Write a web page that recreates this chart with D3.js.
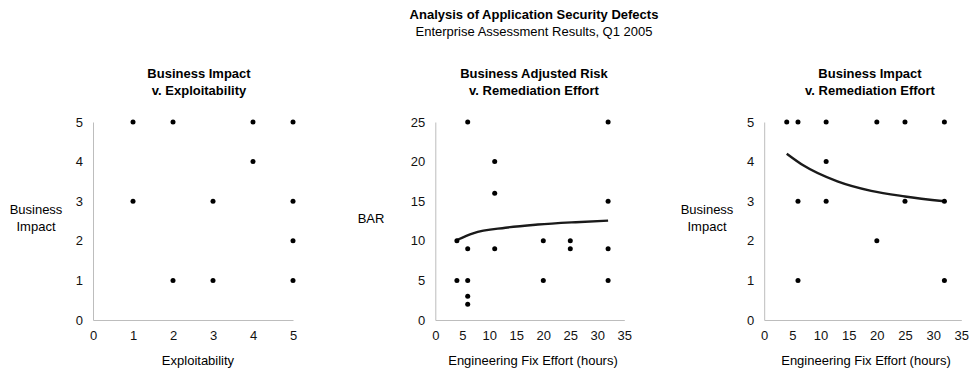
<!DOCTYPE html>
<html>
<head>
<meta charset="utf-8">
<script src="https://cdn.jsdelivr.net/npm/d3@7"></script>
<style>
  body { margin: 0; background: #fff; }
  svg { font-family: "Liberation Sans", Arial, sans-serif; }
  .tick text { font-size: 13px; fill: #111; }
  .domain { stroke: #bdbdbd; }
</style>
</head>
<body>
<svg width="973" height="370"></svg>
<script>
// chart data
const chartTitle = "Analysis of Application Security Defects";
const chartSubtitle = "Enterprise Assessment Results, Q1 2005";

// panel 1: business impact v. exploitability
const exploitX = [1, 1, 2, 2, 3, 3, 4, 4, 5, 5, 5, 5];
const impactY1 = [5, 3, 5, 1, 3, 1, 5, 4, 5, 3, 2, 1];

// panel 2: business adjusted risk v. effort
const effortX2 = [4, 4, 6, 6, 6, 6, 6, 11, 11, 11, 20, 20, 25, 25, 32, 32, 32, 32];
const barY = [10, 5, 25, 9, 5, 3, 2, 20, 16, 9, 10, 5, 10, 9, 25, 15, 9, 5];
const barTrendX = [4, 7, 13, 19, 26, 32];
const barTrendY = [10.1, 10.95, 11.65, 12.05, 12.35, 12.55];

// panel 3: business impact v. effort
const effortX3 = [4, 6, 6, 6, 11, 11, 11, 20, 20, 25, 25, 32, 32, 32];
const impactY3 = [5, 5, 3, 1, 5, 4, 3, 5, 2, 5, 3, 5, 3, 1];
const impactTrendX = [4, 7, 13, 19, 25, 32];
const impactTrendY = [4.2, 3.9, 3.5, 3.26, 3.12, 3.0];

const effortTicks = [0, 5, 10, 15, 20, 25, 30, 35];

const svg = d3.select("svg");

svg.append("text")
  .attr("x", 534).attr("y", 19)
  .attr("text-anchor", "middle")
  .attr("font-size", 13).attr("font-weight", "bold")
  .text(chartTitle);
svg.append("text")
  .attr("x", 534).attr("y", 36)
  .attr("text-anchor", "middle")
  .attr("font-size", 13)
  .text(chartSubtitle);

function drawPanel(p) {
  const g = svg.append("g");

  const x = d3.scaleLinear().domain(p.xDomain).range(p.xRange);
  const y = d3.scaleLinear().domain(p.yDomain).range([320, 122]);

  // axes
  g.append("g")
    .attr("transform", "translate(0,320)")
    .call(d3.axisBottom(x).tickValues(p.xTicks).tickSize(0).tickPadding(11).tickFormat(d3.format("d")))
    .call(a => a.select(".domain").attr("stroke", "#bdbdbd"));
  g.append("g")
    .attr("transform", `translate(${p.xRange[0]},0)`)
    .call(d3.axisLeft(y).tickValues(p.yTicks).tickSize(0).tickPadding(10).tickFormat(d3.format("d")))
    .call(a => a.select(".domain").attr("stroke", "#bdbdbd"));
  g.selectAll(".tick text").attr("font-family", null).attr("font-size", null);

  // titles
  const t = g.append("text")
    .attr("x", p.titleX).attr("y", 78)
    .attr("text-anchor", "middle")
    .attr("font-size", 13).attr("font-weight", "bold");
  p.title.forEach((line, i) => {
    t.append("tspan").attr("x", p.titleX).attr("dy", i == 0 ? 0 : 17).text(line);
  });

  g.append("text")
    .attr("x", p.xTitleX).attr("y", 365)
    .attr("text-anchor", "middle")
    .attr("font-size", 13)
    .text(p.xTitle);

  const yt = g.append("text")
    .attr("x", p.yTitleX).attr("y", p.yTitle.length > 1 ? 214 : 223)
    .attr("text-anchor", "middle")
    .attr("font-size", 13);
  p.yTitle.forEach((line, i) => {
    yt.append("tspan").attr("x", p.yTitleX).attr("dy", i == 0 ? 0 : 17).text(line);
  });

  // trend line
  if (p.trendX) {
    const line = d3.line()
      .x(d => x(d[0]))
      .y(d => y(d[1]))
      .curve(d3.curveMonotoneX);
    g.append("path")
      .datum(d3.zip(p.trendX, p.trendY))
      .attr("fill", "none")
      .attr("stroke", "#1a1a1a")
      .attr("stroke-width", 2.4)
      .attr("d", line);
  }

  // points
  g.selectAll(".dot")
    .data(d3.zip(p.xs, p.ys))
    .enter()
    .append("circle")
    .attr("class", "dot")
    .attr("cx", d => x(d[0]))
    .attr("cy", d => y(d[1]))
    .attr("r", 2.5)
    .attr("fill", "#000");
}

drawPanel({
  xs: exploitX, ys: impactY1,
  xDomain: [0, 5], xRange: [93, 293],
  yDomain: [0, 5],
  xTicks: [0, 1, 2, 3, 4, 5], yTicks: [0, 1, 2, 3, 4, 5],
  title: ["Business Impact", "v. Exploitability"], titleX: 199,
  xTitle: "Exploitability", xTitleX: 198,
  yTitle: ["Business", "Impact"], yTitleX: 36
});

drawPanel({
  xs: effortX2, ys: barY,
  trendX: barTrendX, trendY: barTrendY,
  xDomain: [0, 35], xRange: [435.3, 624.3],
  yDomain: [0, 25],
  xTicks: effortTicks, yTicks: [0, 5, 10, 15, 20, 25],
  title: ["Business Adjusted Risk", "v. Remediation Effort"], titleX: 534,
  xTitle: "Engineering Fix Effort (hours)", xTitleX: 533,
  yTitle: ["BAR"], yTitleX: 371
});

drawPanel({
  xs: effortX3, ys: impactY3,
  trendX: impactTrendX, trendY: impactTrendY,
  xDomain: [0, 35], xRange: [764.2, 961.3],
  yDomain: [0, 5],
  xTicks: effortTicks, yTicks: [0, 1, 2, 3, 4, 5],
  title: ["Business Impact", "v. Remediation Effort"], titleX: 870,
  xTitle: "Engineering Fix Effort (hours)", xTitleX: 866,
  yTitle: ["Business", "Impact"], yTitleX: 707
});
</script>
</body>
</html>
